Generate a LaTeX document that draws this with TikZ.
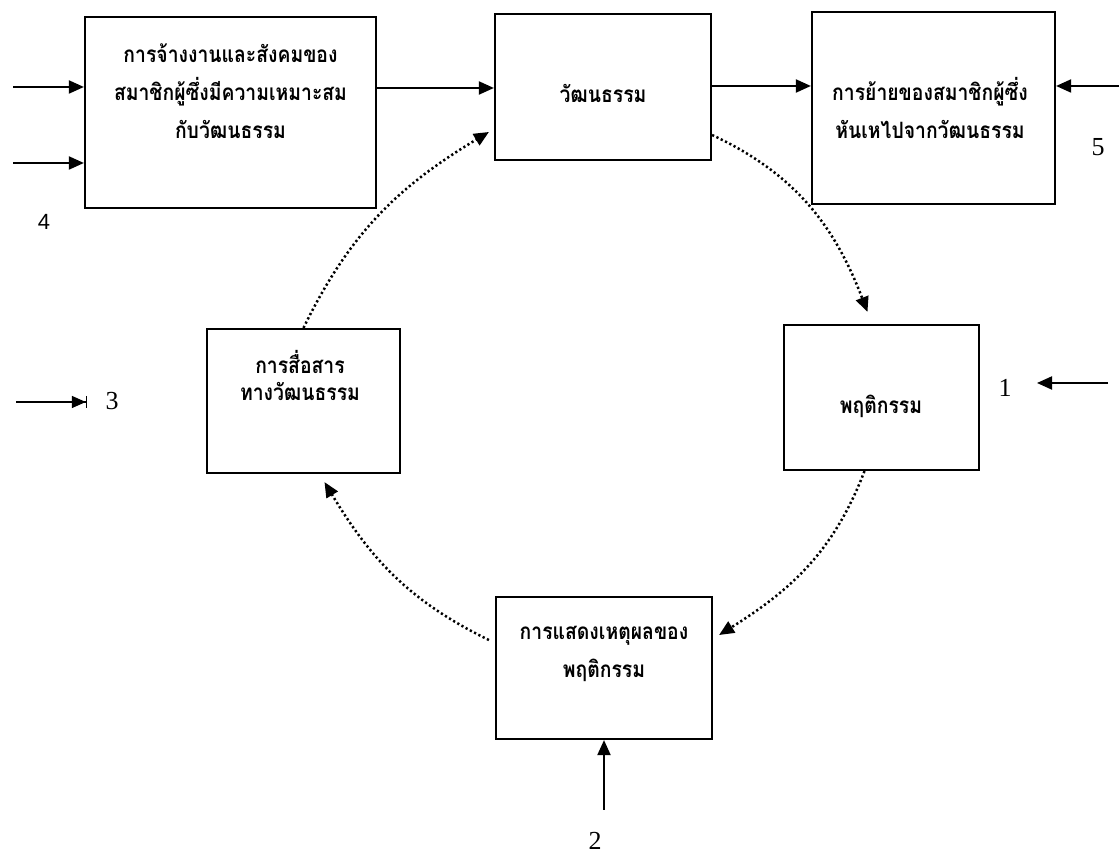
\documentclass[tikz,border=0pt]{standalone}
\usepackage{fontspec}
\setmainfont{Liberation Serif}
\newfontfamily\thaifont[Script=Thai,FakeStretch=0.86]{Loma}
\newfontfamily\numsansfont{Liberation Sans}
\usetikzlibrary{arrows.meta,calc}
\begin{document}
\begin{tikzpicture}[x=1pt,y=1pt,
  box/.style={draw, line width=2.2pt, inner sep=0pt},
  thai/.style={font=\thaifont\bfseries\fontsize{22.5}{38}\selectfont, align=center, inner sep=0pt},
  thaitight/.style={font=\thaifont\bfseries\fontsize{22.5}{27}\selectfont, align=center, inner sep=0pt},
  arr/.style={line width=2pt, -{Triangle[length=15pt,width=13pt]}},
  arrthin/.style={line width=1.5pt, -{Triangle[length=14pt,width=12pt]Bar[width=12pt,line width=1.2pt,sep=0pt]}},
  dots/.style={line width=2.5pt, dash pattern=on 2.2pt off 2.6pt, line cap=butt, -{Triangle[length=15pt,width=13pt]}},
  num/.style={font=\fontsize{26}{28}\selectfont, inner sep=0pt},
  numsans/.style={font=\numsansfont\fontsize{22}{24}\selectfont, inner sep=0pt}]
\useasboundingbox (0,0) rectangle (1120,857);

% boxes
\node[box, minimum width=291, minimum height=191] (A) at (230.5,744.5) {};
\node[box, minimum width=216, minimum height=146] (B) at (603,770) {};
\node[box, minimum width=243, minimum height=192] (C) at (933.5,749) {};
\node[box, minimum width=193, minimum height=144] (D) at (303.5,456) {};
\node[box, minimum width=195, minimum height=145] (E) at (881.5,459.5) {};
\node[box, minimum width=216, minimum height=142] (F) at (604,189) {};

% texts
\node[thai] (At) at (230.5,766) {การจ้างงานและสังคมของ\\สมาชิกผู้ซึ่งมีความเหมาะสม\\กับวัฒนธรรม};
\node[thai] (Bt) at (603,764) {วัฒนธรรม};
\node[thai] (Ct) at (930,749) {การย้ายของสมาชิกผู้ซึ่ง\\หันเหไปจากวัฒนธรรม};
\node[thaitight] (Dt) at (300,482) {การสื่อสาร\\ทางวัฒนธรรม};
\node[thai] (Et) at (881,451) {พฤติกรรม};
\node[thai] (Ft) at (604,203) {การแสดงเหตุผลของ\\พฤติกรรม};

% numbers
\node[num] (n1) at (1005,469) {1};
\node[num] (n2) at (595,16) {2};
\node[num] (n3) at (112,456) {3};
\node[numsans] (n4) at (44,635) {4};
\node[num] (n5) at (1098,710) {5};

% straight arrows
\coordinate (s4a) at (13,770);
\coordinate (s4b) at (13,694);
\draw[arr] (s4a) -- (s4a -| A.west);
\draw[arr] (s4b) -- (s4b -| A.west);
\coordinate (yab) at (0,769);
\draw[arr] (yab -| A.east) -- (yab -| B.west);
\coordinate (ybc) at (0,771);
\draw[arr] (ybc -| B.east) -- (ybc -| C.west);
\coordinate (s5) at (1119,771);
\draw[arr] (s5) -- (s5 -| C.east);
\coordinate (s1) at (1108,474);
\coordinate (e1) at (1037,474);
\draw[arr] (s1) -- (e1);
\coordinate (s3) at (16,455);
\coordinate (e3) at (87,455);
\draw[arrthin] (s3) -- (e3);
\coordinate (s2) at (604,47);
\draw[arr] (s2) -- (s2 |- F.south);

% dotted cycle
\draw[dots] ($(B.east)+(0,-48)$) to[out=-25,in=111] ($(E.north)+(-14,12)$);
\draw[dots] ($(E.south)+(-17,0)$) to[out=-111,in=32] ($(F.east)+(6,33)$);
\draw[dots] ($(F.west)+(-6,28)$) to[out=154,in=-59] ($(D.south)+(21,-8)$);
\draw[dots] (D.north) to[out=64,in=-149] ($(B.west)+(-5,-45)$);
\end{tikzpicture}
\end{document}
